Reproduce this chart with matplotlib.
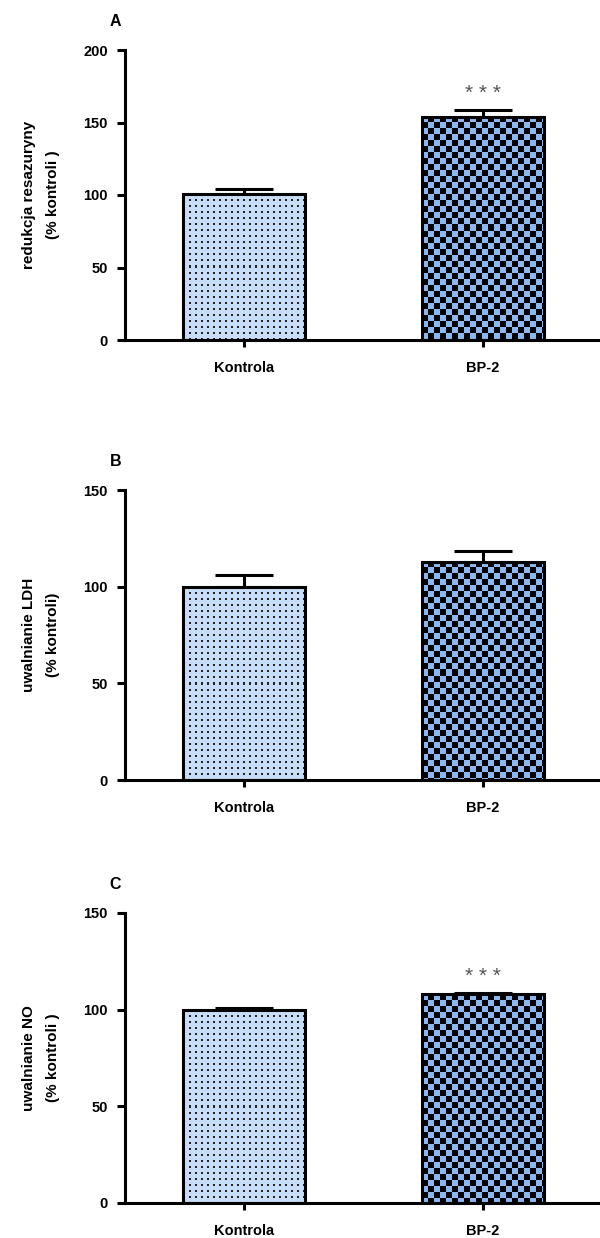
import numpy as np
import matplotlib.pyplot as plt
from matplotlib.colors import ListedColormap

plt.rcParams['font.family'] = ['Liberation Sans', 'DejaVu Sans']
plt.rcParams['font.weight'] = 'bold'

groups = ['Kontrola', 'BP-2']
resazurin = [101, 154]
resazurin_err = [3, 4.5]
ldh = [100, 113]
ldh_err = [6, 5.5]
no_release = [100, 108]
no_err = [0.7, 0.5]

letters = ['A', 'B', 'C']
ylabels = ['redukcja resazuryny\n(% kontroli )',
           'uwalnianie LDH\n(% kontroli)',
           'uwalnianie NO\n(% kontroli )']
ymax = [200, 150, 150]
ystep = [50, 50, 50]
stars = [['', '***'], ['', ''], ['', '***']]
values = [resazurin, ldh, no_release]
errors = [resazurin_err, ldh_err, no_err]

light = '#c8ddf7'
blue = '#8bb8f2'
lw = 2.2

fig = plt.figure(figsize=(6, 12.38), dpi=100)
H = 1238.0
tops = [50, 490, 913]


def texture(ax, bar, kind, cell=6):
    # pixel-level fill pattern, clipped to the bar
    x0, y0 = bar.get_x(), bar.get_y()
    w, h = bar.get_width(), bar.get_height()
    p0 = ax.transData.transform((x0, y0))
    p1 = ax.transData.transform((x0 + w, y0 + h))
    nx = max(1, int(round(p1[0] - p0[0])))
    ny = max(1, int(round(p1[1] - p0[1])))
    jj, ii = np.meshgrid(np.arange(nx), np.arange(ny))
    if kind == 'dots':
        grid = ((ii % cell < 2) & (jj % cell < 2)).astype(int)
        cmap = ListedColormap([light, '#222222'])
    else:
        grid = ((ii // cell + jj // cell) % 2).astype(int)
        cmap = ListedColormap([blue, 'black'])
    im = ax.imshow(grid, extent=(x0, x0 + w, y0, y0 + h), origin='upper',
                   cmap=cmap, interpolation='nearest', aspect='auto', zorder=2.1)
    im.set_clip_path(bar)


for i in range(3):
    top = tops[i]
    ax = fig.add_axes([125 / 600, 1 - (top + 290) / H, 475 / 600, 290 / H])
    x = np.arange(len(groups))
    xlim = (-0.498, 1.49)
    ylim = (0, ymax[i])
    ax.set_xlim(xlim)
    ax.set_ylim(ylim)

    bars = ax.bar(x, values[i], width=0.51, color=[light, blue],
                  linewidth=0, zorder=2)
    texture(ax, bars[0], 'dots')
    texture(ax, bars[1], 'checker')
    ax.bar(x, values[i], width=0.51, fill=False, edgecolor='black',
           linewidth=lw, zorder=3)
    ax.errorbar(x, values[i], yerr=[np.zeros(len(x)), errors[i]], fmt='none',
                ecolor='black', elinewidth=lw, capsize=21, capthick=lw, zorder=1)
    for j in range(len(groups)):
        if stars[i][j]:
            ax.annotate(' '.join(stars[i][j]), (x[j], values[i][j] + errors[i][j]),
                        xytext=(0, 12), textcoords='offset points', ha='center',
                        va='center', fontsize=15, color='#555555', fontweight='normal')

    ax.set_xlim(xlim)
    ax.set_ylim(ylim)
    ax.set_xticks(x)
    ax.set_xticklabels(groups, fontsize=10.5, fontweight='bold')
    ax.set_yticks(np.arange(0, ymax[i] + 1, ystep[i]))
    ax.tick_params(axis='y', length=5.8, width=lw, pad=6.5, labelsize=10.5)
    ax.tick_params(axis='x', length=5.2, width=lw, pad=10)
    for s in ['top', 'right']:
        ax.spines[s].set_visible(False)
    for s in ['left', 'bottom']:
        ax.spines[s].set_linewidth(lw)
    ax.set_ylabel(ylabels[i], fontsize=11, fontweight='bold', linespacing=1.9)
    ax.yaxis.set_label_coords(-0.137, 0.5)
    ax.text(-0.02, 1.097, letters[i], transform=ax.transAxes, ha='center',
            va='center', fontsize=11.5, fontweight='bold')

fig.savefig('out.png', dpi=100)
